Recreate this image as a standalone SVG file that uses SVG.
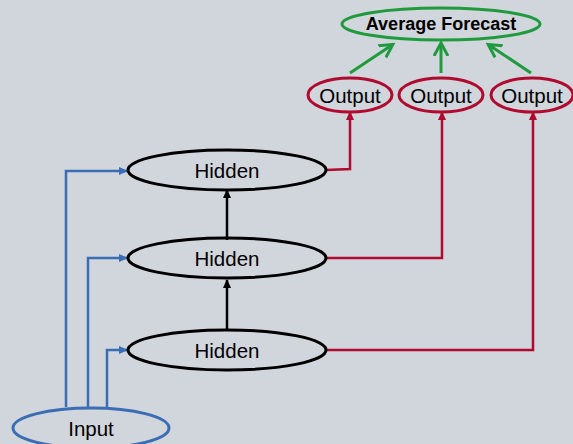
<svg xmlns="http://www.w3.org/2000/svg" width="573" height="444" viewBox="0 0 573 444">
<style>
text{font-family:"Liberation Sans",Arial,sans-serif;fill:#000;text-anchor:middle;dominant-baseline:central}
.lbl{font-size:20.5px}
.bold{font-size:18px;font-weight:bold}
.hid{fill:none;stroke:#000;stroke-width:3}
.out{fill:none;stroke:#b00a2e;stroke-width:3}
.avg{fill:none;stroke:#1f9a3c;stroke-width:3}
.inp{fill:none;stroke:#3b6db4;stroke-width:3}
.cb{fill:none;stroke:#000;stroke-width:2.5}
.cr{fill:none;stroke:#b00a2e;stroke-width:2.5}
.cg{fill:none;stroke:#1f9a3c;stroke-width:3}
.cbl{fill:none;stroke:#3b6db4;stroke-width:2.5}
</style>
<defs>
<marker id="ab" markerWidth="10" markerHeight="10" refX="8" refY="5" orient="auto" markerUnits="userSpaceOnUse"><path d="M0,1 L9,5 L0,9 Z" fill="#000"/></marker>
<marker id="ar" markerWidth="10" markerHeight="10" refX="8" refY="5" orient="auto" markerUnits="userSpaceOnUse"><path d="M0,1 L9,5 L0,9 Z" fill="#b00a2e"/></marker>
<marker id="ag" markerWidth="16" markerHeight="16" refX="12" refY="8" orient="auto" markerUnits="userSpaceOnUse"><path d="M0,1 L13,8 L0,15" fill="none" stroke="#1f9a3c" stroke-width="3"/></marker>
<marker id="abl" markerWidth="10" markerHeight="10" refX="8" refY="5" orient="auto" markerUnits="userSpaceOnUse"><path d="M0,1 L9,5 L0,9 Z" fill="#3b6db4"/></marker>
</defs>
<rect width="573" height="444" fill="#d1d5dc"/>
<g id="connectors">
<path class="cg" d="M350,73 L392,45" marker-end="url(#ag)"/>
<path class="cg" d="M441,73 L441,44" marker-end="url(#ag)"/>
<path class="cg" d="M531,73 L489,45" marker-end="url(#ag)"/>
<path class="cb" d="M227,240 L227,190" marker-end="url(#ab)"/>
<path class="cb" d="M227,330 L227,280" marker-end="url(#ab)"/>
<path class="cr" d="M326,170 L350,169 L350,112" marker-end="url(#ar)"/>
<path class="cr" d="M326,258 L442,258 L442,112" marker-end="url(#ar)"/>
<path class="cr" d="M326,350 L533,350 L533,112" marker-end="url(#ar)"/>
<path class="cbl" d="M66,407 L66,171 L127,171" marker-end="url(#abl)"/>
<path class="cbl" d="M88,407 L88,258 L127,258" marker-end="url(#abl)"/>
<path class="cbl" d="M107,407 L107,350 L127,350" marker-end="url(#abl)"/>
</g>
<g id="avg"><ellipse class="avg" cx="441" cy="24" rx="99" ry="16"/><text class="bold" x="441" y="24">Average Forecast</text></g>
<g id="out1"><ellipse class="out" cx="350" cy="95" rx="42" ry="17"/><text class="lbl" x="350" y="95">Output</text></g>
<g id="out2"><ellipse class="out" cx="441" cy="95" rx="42" ry="17"/><text class="lbl" x="441" y="95">Output</text></g>
<g id="out3"><ellipse class="out" cx="532" cy="95" rx="41" ry="17"/><text class="lbl" x="532" y="95">Output</text></g>
<g id="hidden1"><ellipse class="hid" cx="227" cy="170" rx="99" ry="20"/><text class="lbl" x="227" y="170">Hidden</text></g>
<g id="hidden2"><ellipse class="hid" cx="227" cy="258" rx="99" ry="20"/><text class="lbl" x="227" y="258">Hidden</text></g>
<g id="hidden3"><ellipse class="hid" cx="227" cy="350" rx="99" ry="20"/><text class="lbl" x="227" y="350">Hidden</text></g>
<g id="input"><ellipse class="inp" cx="91" cy="428" rx="78" ry="20"/><text class="lbl" x="91" y="428">Input</text></g>
</svg>
